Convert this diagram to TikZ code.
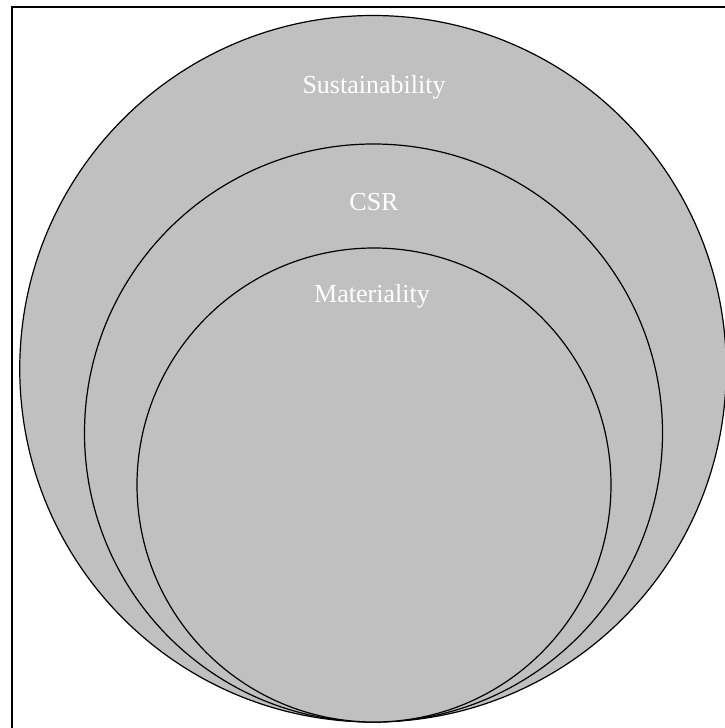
\documentclass[tikz,border=0pt]{standalone}
\usepackage{fontspec}
\setmainfont{Liberation Serif}
\definecolor{ringgray}{RGB}{192,192,192}
\tikzset{
  ring/.style={circle, draw=black, fill=ringgray, line width=1.2pt, inner sep=0pt, outer sep=0pt},
  ringlabel/.style={text=white, anchor=base, inner sep=0pt, font=\fontsize{26}{30}\selectfont}
}
\begin{document}
\begin{tikzpicture}[x=1pt,y=-1pt]
\useasboundingbox (0,0) rectangle (725,728);
\clip (0,0) rectangle (725,728);
\fill[white] (0,0) rectangle (725,728);
\draw[line width=2pt] (11.5,760) -- (11.5,6.5) -- (760,6.5);
\node[ring, minimum size=706.5pt] (sus) at (373,368.75) {};
\node[ring, minimum size=578pt] (csr) at (373.5,433) {};
\node[ring, minimum size=474pt] (mat) at (374,485) {};
\node[ringlabel] (suslabel) at (374,93) {Sustainability};
\node[ringlabel] (csrlabel) at (374,210) {CSR};
\node[ringlabel] (matlabel) at (372,302) {Materiality};
\end{tikzpicture}
\end{document}
